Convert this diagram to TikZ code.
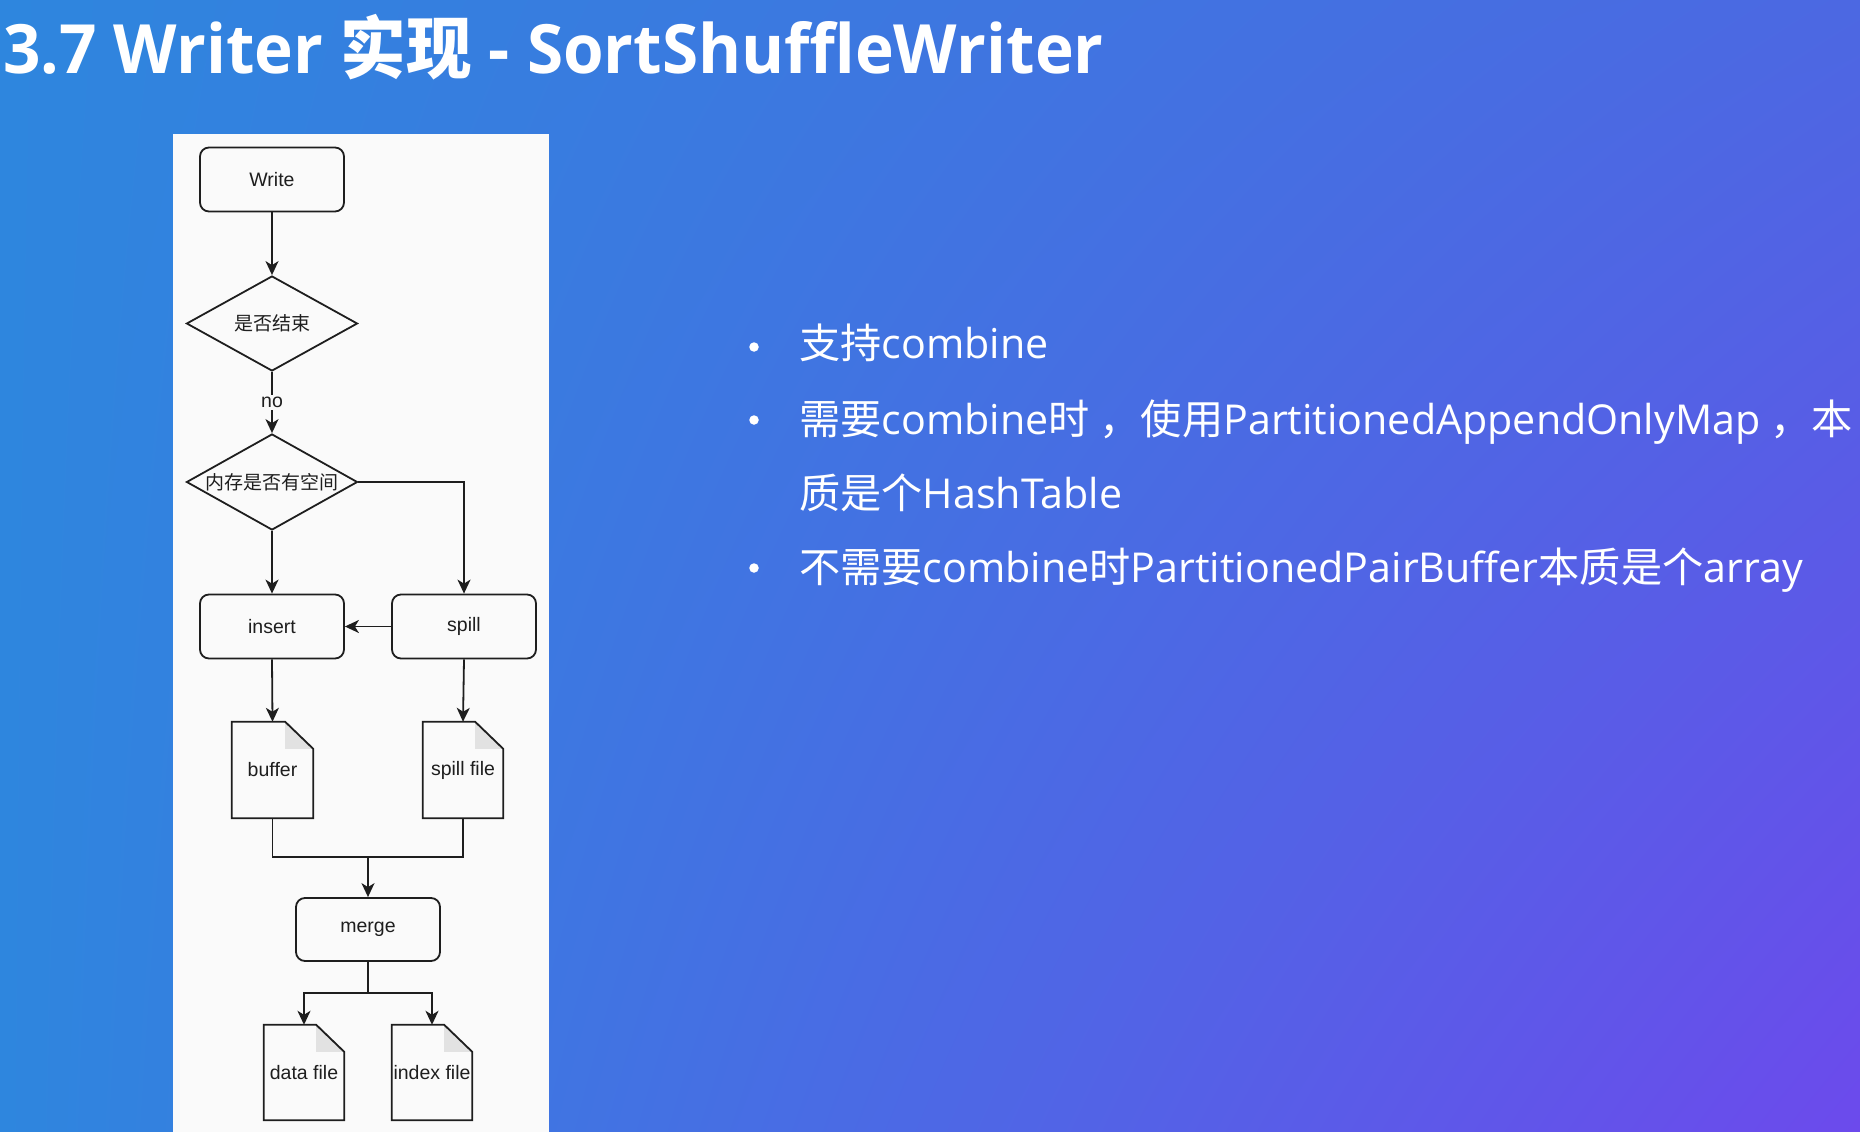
\documentclass[tikz,border=0pt]{standalone}
\usepackage{fontspec}
\setmainfont{Liberation Sans}
\newfontfamily\cjk{Noto Sans CJK SC}
\newfontfamily\lat{Open Sans}
\usetikzlibrary{shapes.geometric,arrows.meta,shadings}
\definecolor{bgA}{RGB}{46,134,222}
\definecolor{bgTR}{RGB}{76,104,226}
\definecolor{bgBR}{RGB}{108,74,236}
\definecolor{panel}{RGB}{250,250,250}
\definecolor{ink}{RGB}{30,30,30}
\definecolor{foldgray}{RGB}{226,226,226}
\newcommand\zh[1]{{\cjk #1}}
\newcommand\docfold[1]{%
  \fill[foldgray] ([xshift=-28pt]#1.north east) -- ([xshift=-28pt,yshift=-27pt]#1.north east) -- ([yshift=-27pt]#1.north east) -- cycle;
  \draw[edgeln, line join=miter] (#1.south west) -- (#1.north west) -- ([xshift=-28pt]#1.north east) -- ([yshift=-27pt]#1.north east) -- (#1.south east) -- cycle;
}
\begin{document}
\begin{tikzpicture}[x=1pt,y=-1pt,
  edgeln/.style={draw=ink, line width=1.8pt},
  arr/.style={edgeln, -{Stealth[length=14pt,width=13pt,inset=4pt]}},
  rbox/.style={edgeln, rounded corners=9pt, minimum width=144pt, minimum height=64pt, inner sep=0pt, font=\fontsize{19.5}{22}\selectfont, text=ink},
  dia/.style={edgeln, diamond, minimum width=171pt, minimum height=95pt, inner sep=0pt},
  dtext/.style={inner sep=0pt, font=\cjk\fontsize{19}{22}\selectfont, text=ink},
  docnode/.style={minimum width=81pt, minimum height=96pt, inner sep=0pt, font=\fontsize{19.5}{22}\selectfont, text=ink},
  bul/.style={circle, fill=white, minimum size=9.5pt, inner sep=0pt},
  btext/.style={anchor=base west, inner sep=0pt, text=white, font=\lat\fontsize{41.2}{44}\selectfont},
]
\useasboundingbox (0,0) rectangle (1860,1132);
\shade[upper left=bgA, lower left=bgA, upper right=bgTR, lower right=bgBR] (0,0) rectangle (1860,1132);

% title
\node[anchor=base west, inner sep=0pt, text=white, font=\lat\bfseries\fontsize{68}{70}\selectfont] (title) at (3,74) {\scalebox{0.965}[1]{3.7 Writer \zh{实现} - SortShuffleWriter}};

% panel
\fill[panel] (173,134) rectangle (549,1132);

% flowchart nodes
\node[rbox] (write) at (272,179.5) {Write};
\node[dia] (d1) at (272,323.5) {};
\node[dtext] (d1t) at (272,323.5) {是否结束};
\node[dia, minimum height=96pt] (d2) at (272,482) {};
\node[dtext] (d2t) at (272,482) {内存是否有空间};
\node[rbox] (insert) at (272,626.5) {insert};
\node[rbox] (spill) at (464,626.5) {spill};
\node[docnode] (buf) at (272.5,770) {buffer};
\node[docnode, minimum width=80pt] (sfile) at (463,770) {spill file};
\node[rbox, minimum height=63pt] (merge) at (368,929.5) {merge};
\node[docnode, minimum width=80pt, minimum height=95pt] (data) at (304,1072.5) {data file};
\node[docnode, minimum width=80pt, minimum height=95pt] (index) at (432,1072.5) {index file};
\docfold{buf}
\docfold{sfile}
\docfold{data}
\docfold{index}
\coordinate (mj) at (368,857);
\coordinate (sj) at (368,993);

% connectors
\draw[arr] (write.south) -- (d1.north);
\draw[arr] (d1.south) -- node[fill=panel, inner sep=2pt, font=\fontsize{19.5}{22}\selectfont, text=ink] (nolab) {no} (d2.north);
\draw[arr] (d2.east) -| (spill.north);
\draw[arr] (d2.south) -- (insert.north);
\draw[arr] (spill.west) -- (insert.east);
\draw[arr] (insert.south) -- (buf.north);
\draw[arr] (spill.south) -- (sfile.north);
\draw[edgeln] (buf.south) |- (mj);
\draw[edgeln] (sfile.south) |- (mj);
\draw[arr] (mj) -- (merge.north);
\draw[edgeln] (merge.south) -- (sj);
\draw[arr] (sj) -| (data.north);
\draw[arr] (sj) -| (index.north);

% bullets
\node[bul] (b1) at (754,347) {};
\node[bul] (b2) at (754,420) {};
\node[bul] (b4) at (754,568) {};
\node[btext] (t1) at (799,358) {\zh{支持}combine};
\node[btext] (t2) at (799,434) {\zh{需要}combine\zh{时\hspace{10pt}，使用}PartitionedAppendOnlyMap\zh{\hspace{10pt}，本}};
\node[btext] (t3) at (799,508) {\zh{质是个}HashTable};
\node[btext] (t4) at (799,582) {\zh{不需要}combine\zh{时}PartitionedPairBuffer\zh{本质是个}array};
\end{tikzpicture}
\end{document}
